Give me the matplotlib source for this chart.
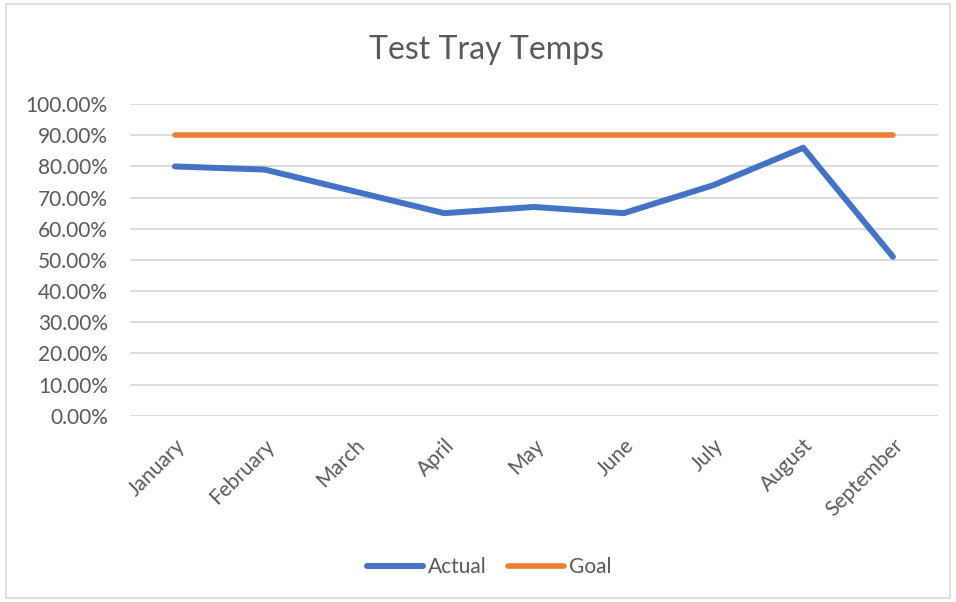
import matplotlib.pyplot as plt
import matplotlib.patches as mpatches
from matplotlib.ticker import PercentFormatter, MultipleLocator

plt.rcParams['font.family'] = ['Lato', 'DejaVu Sans']

months = ["January", "February", "March", "April", "May", "June",
          "July", "August", "September"]
actual = [0.80, 0.79, 0.72, 0.65, 0.67, 0.65, 0.74, 0.86, 0.51]
goal = [0.90] * 9

text_color = "#595959"
grid_color = "#D9D9D9"

fig = plt.figure(figsize=(9.56, 6.02), dpi=100)
ax = fig.add_axes([0.136, 0.3095, 0.845, 0.5175])

x = range(len(months))
ax.plot(x, actual, color="#4472C4", lw=4.3, solid_capstyle="round",
        solid_joinstyle="round", label="Actual")
ax.plot(x, goal, color="#ED7D31", lw=4.0, solid_capstyle="round",
        label="Goal")

ax.set_xlim(-0.5, len(months) - 0.5)
ax.set_ylim(0, 1.0)
ax.yaxis.set_major_locator(MultipleLocator(0.1))
ax.yaxis.set_major_formatter(PercentFormatter(1.0, decimals=2))
ax.grid(axis="y", color=grid_color, lw=1.3)
ax.set_axisbelow(True)
for s in ax.spines.values():
    s.set_visible(False)

ax.set_xticks(list(x))
ax.set_xticklabels(months, rotation=45, ha="right", rotation_mode="anchor")
ax.tick_params(axis="both", length=0, labelsize=15, labelcolor=text_color)
ax.tick_params(axis="y", pad=16)
ax.tick_params(axis="x", pad=14)

fig.text(0.509, 0.917, "Test Tray Temps", ha="center", va="center",
         fontsize=23, color=text_color)

fig.legend(loc="center", bbox_to_anchor=(0.512, 0.058), ncol=2, frameon=False,
           fontsize=15, labelcolor=text_color, handlelength=2.7,
           handletextpad=0.25, columnspacing=1.0)

# chart border
fig.patches.append(mpatches.Rectangle((6 / 956, 4 / 602), 944 / 956, 594 / 602,
                                      transform=fig.transFigure, fill=False,
                                      edgecolor=grid_color, lw=1.2))

fig.savefig("out.png", dpi=100)
